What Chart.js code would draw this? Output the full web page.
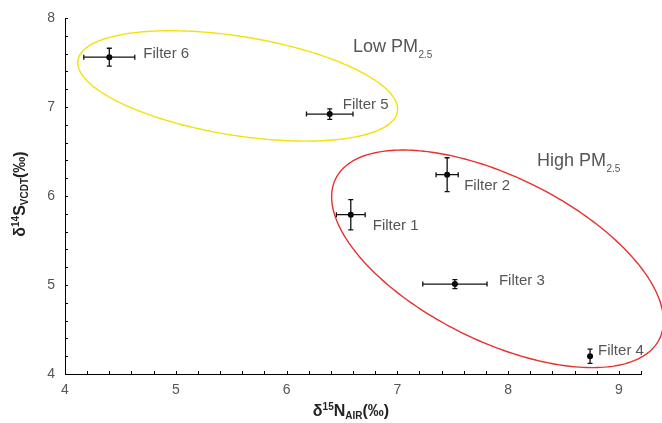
<!DOCTYPE html>
<html>
<head>
<meta charset="utf-8">
<script src="https://cdn.jsdelivr.net/npm/chart.js@4"></script>
<style>
html,body{margin:0;padding:0;background:#fff;}
#wrap{width:662px;height:423px;position:relative;}
</style>
</head>
<body>
<div id="wrap"><canvas id="c"></canvas></div>
<script>
// ---- data ----
const filters  = ['Filter 1','Filter 2','Filter 3','Filter 4','Filter 5','Filter 6'];
const nitrogen = [6.58, 7.45, 7.52, 8.74, 6.39, 4.40];   // δ15N_AIR (‰)
const sulfur   = [5.79, 6.24, 5.01, 4.20, 6.92, 7.56];   // δ14S_VCDT (‰)
const nErr     = [0.13, 0.10, 0.29, 0.00, 0.21, 0.23];
const sErr     = [0.17, 0.19, 0.05, 0.08, 0.06, 0.10];
const xTickLabels = [4, 5, 6, 7, 8, 9];
const yTickLabels = [4, 5, 6, 7, 8];
// groups (ellipses in data units: centre, major & minor semi-axis vectors)
const groupNames   = ['Low PM', 'High PM'];
const groupCentreX = [5.559, 7.905];
const groupCentreY = [7.237, 5.294];
const groupMajor   = [[1.442, -0.288], [1.462, -0.899]];
const groupMinor   = [[-0.070, -0.549], [-0.326, -0.828]];
const groupLabelX  = [6.60, 8.26];
const groupLabelY  = [7.67, 6.39];

// ---- style ----
const groupColors = ['#f3e10a', '#e8302e'];
const labelOffsets = [[22,11],[17,11],[44,-3],[8,-5],[13,-9],[34,-3]];
const FONT = '"Liberation Sans", Arial, sans-serif';
const TEXT = '#555';

const points = nitrogen.map((x,i)=>({x:x, y:sulfur[i]}));

const isInt = v => Math.abs(v - Math.round(v)) < 1e-6;

const decor = {
  id:'decor',
  afterDatasetsDraw(chart){
    const ctx = chart.ctx, xs = chart.scales.x, ys = chart.scales.y;
    const px = v => xs.getPixelForValue(v), py = v => ys.getPixelForValue(v);
    // ellipses
    ctx.save();
    ctx.lineWidth = 1.4;
    for (let g=0; g<groupNames.length; g++){
      ctx.strokeStyle = groupColors[g];
      ctx.beginPath();
      for (let k=0; k<=240; k++){
        const t = k/240*2*Math.PI;
        const dx = groupCentreX[g] + groupMajor[g][0]*Math.cos(t) + groupMinor[g][0]*Math.sin(t);
        const dy = groupCentreY[g] + groupMajor[g][1]*Math.cos(t) + groupMinor[g][1]*Math.sin(t);
        if (k===0) ctx.moveTo(px(dx), py(dy)); else ctx.lineTo(px(dx), py(dy));
      }
      ctx.closePath();
      ctx.stroke();
    }
    // error bars
    ctx.strokeStyle = '#111';
    ctx.lineWidth = 1.3;
    const cap = 2.5;
    for (let i=0;i<filters.length;i++){
      const x = px(nitrogen[i]), y = py(sulfur[i]);
      if (nErr[i] > 0){
        const x1 = px(nitrogen[i]-nErr[i]), x2 = px(nitrogen[i]+nErr[i]);
        ctx.beginPath();
        ctx.moveTo(x1,y); ctx.lineTo(x2,y);
        ctx.moveTo(x1,y-cap); ctx.lineTo(x1,y+cap);
        ctx.moveTo(x2,y-cap); ctx.lineTo(x2,y+cap);
        ctx.stroke();
      }
      if (sErr[i] > 0){
        const y1 = py(sulfur[i]-sErr[i]), y2 = py(sulfur[i]+sErr[i]);
        ctx.beginPath();
        ctx.moveTo(x,y1); ctx.lineTo(x,y2);
        ctx.moveTo(x-cap,y1); ctx.lineTo(x+cap,y1);
        ctx.moveTo(x-cap,y2); ctx.lineTo(x+cap,y2);
        ctx.stroke();
      }
    }
    // point labels
    ctx.fillStyle = TEXT;
    ctx.font = '15px ' + FONT;
    ctx.textAlign = 'left';
    ctx.textBaseline = 'middle';
    for (let i=0;i<filters.length;i++){
      ctx.fillText(filters[i], px(nitrogen[i]) + labelOffsets[i][0], py(sulfur[i]) + labelOffsets[i][1]);
    }
    // group labels with subscript 2.5
    for (let g=0; g<groupNames.length; g++){
      const x = px(groupLabelX[g]), y = py(groupLabelY[g]);
      ctx.font = '18px ' + FONT;
      ctx.textBaseline = 'middle';
      ctx.fillText(groupNames[g], x, y);
      const w = ctx.measureText(groupNames[g]).width;
      ctx.font = '10px ' + FONT;
      ctx.fillText('2.5', x + w + 0.5, y + 8);
    }
    // axis ticks (inward) every 0.2
    ctx.strokeStyle = '#000';
    ctx.lineWidth = 1;
    const bottom = chart.chartArea.bottom, left = chart.chartArea.left;
    xs.ticks.forEach(t => {
      const x = Math.round(px(t.value)) + 0.5;
      ctx.beginPath(); ctx.moveTo(x, bottom); ctx.lineTo(x, bottom - 3); ctx.stroke();
    });
    ys.ticks.forEach(t => {
      const y = Math.round(py(t.value)) + 0.5;
      ctx.beginPath(); ctx.moveTo(left, y); ctx.lineTo(left + 3, y); ctx.stroke();
    });
    // axis titles
    ctx.fillStyle = '#222';
    function richText(parts, cx, cy, rotate){
      ctx.save();
      ctx.translate(cx, cy);
      if (rotate) ctx.rotate(-Math.PI/2);
      let total = 0;
      parts.forEach(p => { ctx.font = p.f; total += ctx.measureText(p.t).width; });
      let xx = -total/2;
      ctx.textAlign = 'left';
      ctx.textBaseline = 'alphabetic';
      parts.forEach(p => { ctx.font = p.f; ctx.fillText(p.t, xx, p.dy); xx += ctx.measureText(p.t).width; });
      ctx.restore();
    }
    const big = 'bold 16px ' + FONT, small = 'bold 10px ' + FONT;
    richText([{t:'δ',f:big,dy:5},{t:'15',f:small,dy:-1},{t:'N',f:big,dy:5},{t:'AIR',f:small,dy:8},{t:'(‰)',f:big,dy:5}], 351, 411, false);
    richText([{t:'δ',f:big,dy:5},{t:'14',f:small,dy:-1},{t:'S',f:big,dy:5},{t:'VCDT',f:small,dy:8},{t:'(‰)',f:big,dy:5}], 20, 194, true);
    ctx.restore();
  }
};

new Chart(document.getElementById('c'), {
  type:'scatter',
  data:{ datasets:[{
    data: points,
    backgroundColor:'#000', borderColor:'#000',
    pointRadius:3, pointHoverRadius:3, borderWidth:0
  }]},
  options:{
    responsive:true, maintainAspectRatio:false, animation:false,
    devicePixelRatio:1,
    layout:{ padding:{ top:18, right:21, left:0, bottom:0 } },
    plugins:{ legend:{display:false}, tooltip:{enabled:false} },
    scales:{
      x:{
        type:'linear', min:4, max:9.2,
        afterFit(s){ s.height = 49; },
        border:{ display:true, color:'#000', width:1 },
        grid:{ display:false, tickLength:8 },
        ticks:{
          stepSize:0.2, autoSkip:false, maxRotation:0, padding:0,
          color:TEXT, font:{ family:FONT, size:14 },
          callback:v => (isInt(v) && xTickLabels.includes(Math.round(v))) ? String(Math.round(v)) : ''
        }
      },
      y:{
        type:'linear', min:4, max:8,
        afterFit(s){ s.width = 65; },
        border:{ display:true, color:'#000', width:1 },
        grid:{ display:false, tickLength:8 },
        ticks:{
          stepSize:0.2, autoSkip:false, padding:2,
          color:TEXT, font:{ family:FONT, size:14 },
          callback:v => (isInt(v) && yTickLabels.includes(Math.round(v))) ? String(Math.round(v)) : ''
        }
      }
    }
  },
  plugins:[decor]
});
</script>
</body>
</html>
